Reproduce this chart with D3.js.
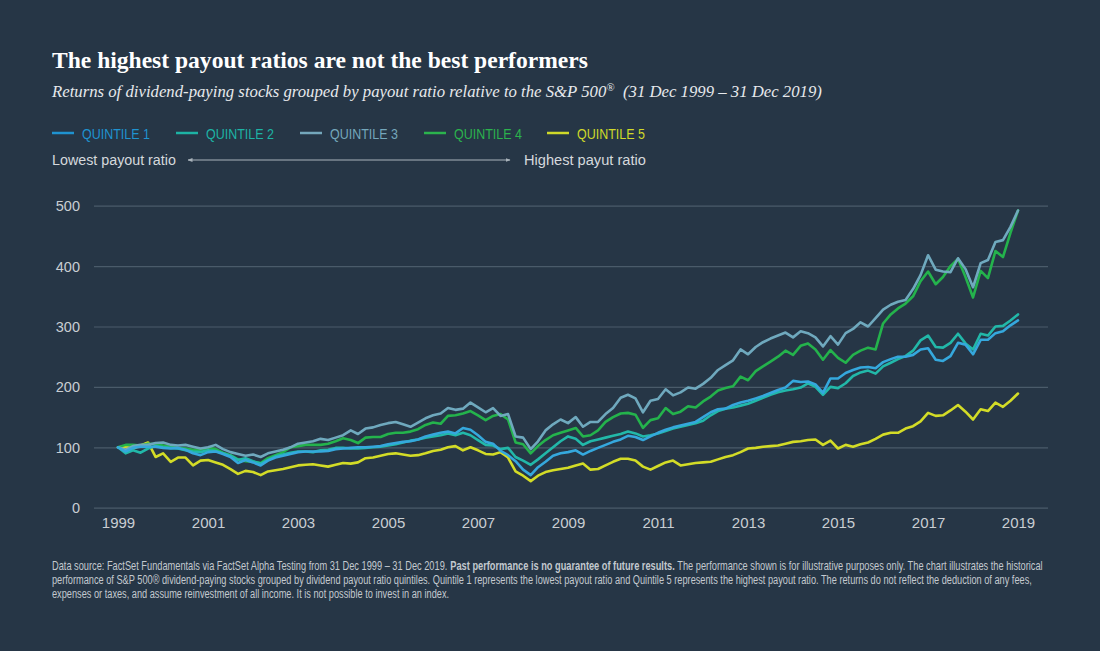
<!DOCTYPE html>
<html>
<head>
<meta charset="utf-8">
<script src="https://cdn.jsdelivr.net/npm/d3@7"></script>
<style>
  html, body { margin: 0; padding: 0; background: #263646; }
  svg { display: block; }
</style>
</head>
<body>
<svg id="chart" width="1100" height="651"></svg>
<script>
// ---------------- DATA ----------------
// Values every two months, from Dec 1999 to Dec 2019 (index 0 = Dec 1999)
const seriesNames = ["QUINTILE 1", "QUINTILE 2", "QUINTILE 3", "QUINTILE 4", "QUINTILE 5"];
const xTickYears = [1999, 2001, 2003, 2005, 2007, 2009, 2011, 2013, 2015, 2017, 2019];
const yTicks = [0, 100, 200, 300, 400, 500];

const quintile1 = [100,93,99,101,101,101,99,98,99,96,90,87,92,93,89,84,74,79,75,70,
  78,83,86,89,92,93,93,93,94,97,98,99,100,100,101,102,105,107,109,110,
  113,118,121,124,126,123,132,129,120,109,106,94,87,77,63,54,67,76,86,90,
  92,95,88,94,99,104,109,113,119,117,112,118,124,129,133,136,139,142,150,158,
  163,164,170,174,177,181,185,190,195,199,210,208,209,204,190,214,214,223,228,232,
  233,231,241,246,250,250,253,262,264,245,243,251,273,270,254,278,278,289,292,302,310];
const quintile2 = [100,90,95,91,98,102,100,99,98,95,93,92,95,94,90,86,79,82,77,73,
  79,85,88,91,93,93,92,95,96,99,99,98,98,99,100,101,103,105,108,111,
  113,116,118,120,123,120,124,120,112,104,103,97,99,84,78,71,80,90,100,110,
  118,114,104,110,113,116,119,122,126,123,118,120,123,127,131,134,137,140,144,153,
  160,164,166,169,172,177,182,187,191,194,196,199,206,200,187,200,198,206,218,224,
  227,222,234,240,246,251,260,277,285,266,265,273,288,272,262,288,285,300,301,310,320];
const quintile3 = [100,96,102,104,104,107,108,104,103,104,101,98,100,104,97,92,89,86,88,84,
  90,93,96,100,106,108,110,114,112,116,120,128,122,131,133,137,140,142,138,134,
  141,148,153,156,165,162,164,174,166,158,165,152,155,118,116,97,110,128,138,146,
  140,150,134,142,142,155,165,182,187,181,158,177,180,196,186,191,199,197,205,215,
  228,236,244,262,254,266,274,280,285,290,282,292,289,282,267,284,270,289,296,307,
  300,314,328,336,341,344,362,385,418,394,391,390,413,395,365,405,410,440,443,465,492];
const quintile4 = [100,104,104,103,106,105,103,101,99,98,96,96,99,97,91,87,80,77,76,74,
  82,87,92,100,102,104,104,104,106,110,115,112,107,116,117,117,122,124,124,126,
  130,137,141,139,152,153,156,160,153,145,152,155,146,108,105,90,102,112,120,124,
  128,132,118,120,128,142,150,156,157,154,132,145,148,165,155,159,168,166,176,184,
  194,198,201,217,211,226,234,242,250,260,253,268,272,262,245,261,248,240,253,260,
  265,262,305,320,330,338,350,375,391,370,382,400,412,382,348,392,380,425,415,455,492];
const quintile5 = [100,101,98,103,108,84,90,76,83,83,70,78,79,75,71,64,56,61,59,54,
  60,62,64,67,70,71,72,70,68,71,74,73,75,82,83,86,89,90,88,86,
  87,90,94,96,100,102,95,100,95,89,88,92,83,60,53,44,53,59,62,64,
  66,70,73,63,64,70,76,81,81,78,68,63,69,75,78,70,72,74,75,76,
  80,84,87,92,98,99,101,102,103,106,109,110,112,113,104,111,98,104,101,105,
  108,114,121,124,124,131,135,143,157,152,153,161,170,159,146,163,160,174,167,177,189];

const seriesValues = [quintile1, quintile2, quintile3, quintile4, quintile5];
const seriesColors = ["#35a8dd", "#22b8a9", "#6fa9be", "#24b34c", "#d3dc27"];
const legendColors = ["#1f93d0", "#1db3a4", "#74a7bb", "#2bb34d", "#cfd929"];

// ---------------- LAYOUT ----------------
const svg = d3.select("#chart");
const W = 1100, H = 651;
svg.append("rect").attr("width", W).attr("height", H).attr("fill", "#263646");

const start = new Date(Date.UTC(1999, 11, 1));
const end = new Date(Date.UTC(2019, 11, 1));
const dateAt = i => new Date(Date.UTC(1999, 11 + 2 * i, 1));

const x = d3.scaleUtc().domain([start, end]).range([118, 1018]);
const y = d3.scaleLinear().domain([0, 500]).range([507.7, 205.7]);

const sans = "'Liberation Sans', Arial, sans-serif";
const serif = "'Liberation Serif', Georgia, serif";

function fitWidth(sel, target) {
  const node = sel.node();
  const fs = parseFloat(sel.attr("font-size"));
  const w = node.getComputedTextLength();
  if (w > 0) sel.attr("font-size", (fs * target / w).toFixed(2));
}
// condensed text: draw inside a group scaled horizontally so it spans `target` px
function condensedText(parent, px, py, str, size, color, target, weight) {
  const g = parent.append("g");
  const t = g.append("text").attr("x", 0).attr("y", 0)
    .attr("font-family", sans).attr("font-size", size).attr("fill", color)
    .attr("font-weight", weight || "normal").text(str);
  const w = t.node().getComputedTextLength();
  g.attr("transform", `translate(${px},${py}) scale(${(target / w).toFixed(4)},1)`);
  return g;
}

// Title
const title = svg.append("text").attr("x", 52).attr("y", 68)
  .attr("font-family", serif).attr("font-weight", "bold").attr("font-size", 21)
  .attr("fill", "#ffffff").text("The highest payout ratios are not the best performers");
fitWidth(title, 536);

// Subtitle
const sub = svg.append("text").attr("x", 52).attr("y", 97)
  .attr("font-family", serif).attr("font-style", "italic").attr("font-size", 16)
  .attr("fill", "#e6e9ec");
sub.append("tspan").text("Returns of dividend-paying stocks grouped by payout ratio relative to the S&P 500");
sub.append("tspan").attr("baseline-shift", "super").attr("font-size", "65%").text("®");
sub.append("tspan").text("\u00a0 (31 Dec 1999 \u2013 31 Dec 2019)");
fitWidth(sub, 770);

// Legend
const legendX = [52, 176, 300, 424, 547];
seriesNames.forEach((name, i) => {
  svg.append("line").attr("x1", legendX[i]).attr("x2", legendX[i] + 22)
    .attr("y1", 133).attr("y2", 133).attr("stroke", legendColors[i]).attr("stroke-width", 2.5);
  condensedText(svg, legendX[i] + 30, 138.5, name, 15, legendColors[i], 68);
});

// Payout ratio direction
condensedText(svg, 52, 164.5, "Lowest payout ratio", 15, "#d5d9dd", 124);
condensedText(svg, 524, 164.5, "Highest payut ratio", 15, "#d5d9dd", 122);
const defs = svg.append("defs");
defs.append("marker").attr("id", "arr").attr("viewBox", "0 0 10 10").attr("refX", 9).attr("refY", 5)
  .attr("markerWidth", 5).attr("markerHeight", 5).attr("orient", "auto-start-reverse")
  .append("path").attr("d", "M0,1 L10,5 L0,9 Z").attr("fill", "#a9b3bb");
svg.append("line").attr("x1", 188).attr("x2", 510).attr("y1", 160).attr("y2", 160)
  .attr("stroke", "#a9b3bb").attr("stroke-width", 1)
  .attr("marker-start", "url(#arr)").attr("marker-end", "url(#arr)");

// Grid + y axis
const yAxis = d3.axisLeft(y).tickValues(yTicks).tickSize(-(1048 - 94)).tickPadding(14);
const gy = svg.append("g").attr("transform", "translate(94,0)").call(yAxis);
gy.select(".domain").remove();
gy.selectAll(".tick line").attr("stroke", "#4a5b6a").attr("stroke-width", 1.2);
gy.selectAll(".tick text").attr("font-family", sans).attr("font-size", 14.5)
  .attr("fill", "#c9ced3").attr("dy", "0.35em");

// x axis labels
const xAxis = d3.axisBottom(x)
  .tickValues(xTickYears.map(yr => new Date(Date.UTC(yr, 11, 1))))
  .tickFormat(d => String(d.getUTCFullYear())).tickSize(0).tickPadding(10);
const gx = svg.append("g").attr("transform", "translate(0,507.7)").call(xAxis);
gx.select(".domain").remove();
gx.selectAll(".tick text").attr("font-family", sans).attr("font-size", 15).attr("fill", "#c9ced3");

// Lines
const line = d3.line().x((d, i) => x(dateAt(i))).y(d => y(d)).curve(d3.curveLinear);
const drawOrder = [4, 3, 2, 1, 0];
drawOrder.forEach(k => {
  svg.append("path").datum(seriesValues[k]).attr("d", line)
    .attr("fill", "none").attr("stroke", seriesColors[k]).attr("stroke-width", 2.6)
    .attr("stroke-linejoin", "round").attr("stroke-linecap", "round");
});

// Footnote (each line in a horizontally condensed group)
const footLines = [
  [["Data source: FactSet Fundamentals via FactSet Alpha Testing from 31 Dec 1999 \u2013 31 Dec 2019. ", false],
   ["Past performance is no guarantee of future results.", true],
   [" The performance shown is for illustrative purposes only. The chart illustrates the historical", false]],
  [["performance of S&P 500\u00ae dividend-paying stocks grouped by dividend payout ratio quintiles. Quintile 1 represents the lowest payout ratio and Quintile 5 represents the highest payout ratio. The returns do not reflect the deduction of any fees,", false]],
  [["expenses or taxes, and assume reinvestment of all income. It is not possible to invest in an index.", false]]
];
const footTargets = [991, 981, null];
let ratio = 0.75;
footLines.forEach((parts, li) => {
  const g = svg.append("g");
  let cx = 0;
  parts.forEach(([txt, bold]) => {
    const t = g.append("text").attr("x", cx).attr("y", 0)
      .attr("font-family", sans).attr("font-size", 12.5).attr("fill", "#c3c9cf")
      .attr("font-weight", bold ? "bold" : "normal")
      .attr("xml:space", "preserve").style("white-space", "pre").text(txt);
    cx += t.node().getComputedTextLength();
  });
  if (footTargets[li]) ratio = footTargets[li] / cx;
  g.attr("transform", `translate(52,${570 + li * 14}) scale(${ratio.toFixed(4)},1)`);
});
</script>
</body>
</html>
